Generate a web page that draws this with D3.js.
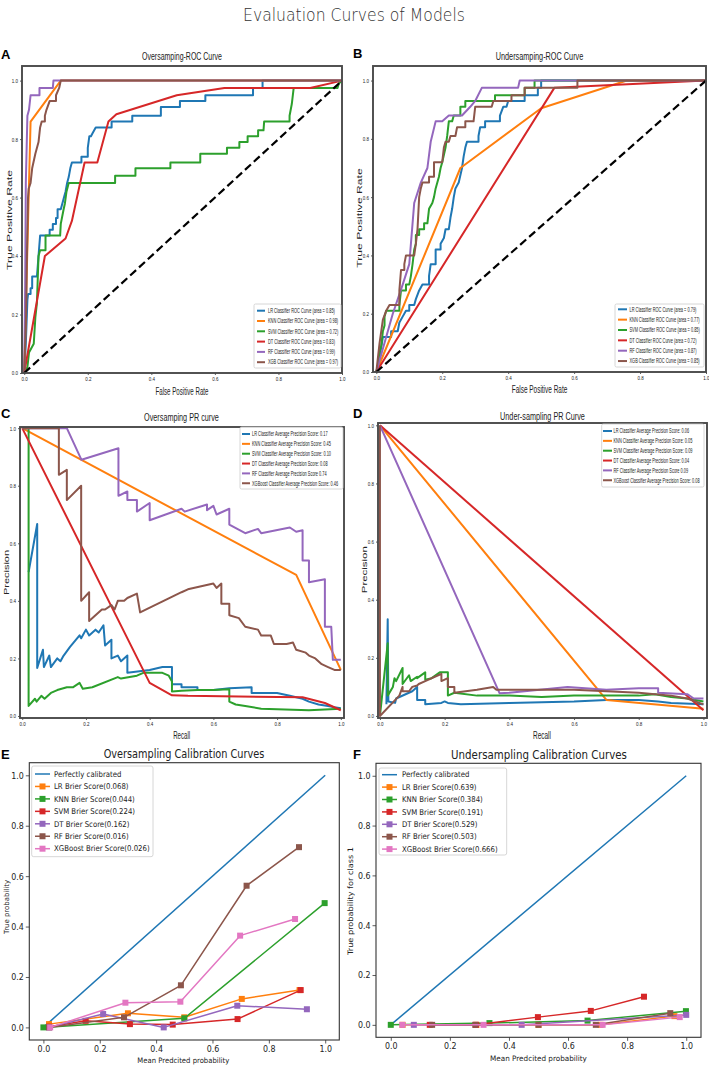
<!DOCTYPE html>
<html>
<head>
<meta charset="utf-8">
<script src="https://cdn.jsdelivr.net/npm/d3@7"></script>
<style>
body { margin: 0; background: #fff; }
</style>
</head>
<body>
<div id="chart"></div>
<script>
// ---------- data ----------
const ticks = [0, 0.2, 0.4, 0.6, 0.8, 1.0];

// A: oversampling ROC  [fpr, tpr]
const rocOverLR = [[0,0],[0.005,0.1],[0.01,0.25],[0.012,0.27],[0.02,0.27],[0.02,0.29],[0.025,0.29],[0.025,0.33],[0.04,0.33],[0.045,0.4],[0.05,0.47],[0.08,0.47],[0.08,0.49],[0.09,0.49],[0.09,0.51],[0.1,0.51],[0.1,0.53],[0.105,0.53],[0.105,0.56],[0.115,0.56],[0.12,0.58],[0.125,0.6],[0.13,0.62],[0.135,0.65],[0.14,0.67],[0.145,0.7],[0.15,0.72],[0.18,0.72],[0.18,0.74],[0.2,0.74],[0.2,0.77],[0.205,0.81],[0.21,0.81],[0.215,0.82],[0.225,0.84],[0.275,0.84],[0.275,0.86],[0.34,0.86],[0.34,0.88],[0.43,0.88],[0.43,0.91],[0.49,0.91],[0.49,0.93],[0.57,0.93],[0.57,0.95],[0.72,0.95],[0.72,0.975],[0.75,0.975],[0.75,1],[1,1]];
const rocOverKNN = [[0,0],[0.02,0.86],[0.115,1],[1,1]];
const rocOverSVM = [[0,0],[0.01,0.02],[0.015,0.07],[0.03,0.1],[0.035,0.19],[0.04,0.24],[0.045,0.4],[0.05,0.42],[0.067,0.42],[0.067,0.47],[0.113,0.47],[0.115,0.51],[0.124,0.56],[0.128,0.58],[0.133,0.62],[0.14,0.65],[0.286,0.65],[0.286,0.675],[0.35,0.675],[0.35,0.7],[0.46,0.7],[0.46,0.72],[0.554,0.72],[0.554,0.75],[0.638,0.75],[0.638,0.77],[0.677,0.77],[0.677,0.79],[0.703,0.79],[0.703,0.81],[0.736,0.81],[0.736,0.83],[0.753,0.83],[0.755,0.86],[0.835,0.86],[0.835,0.88],[0.842,0.92],[0.848,0.975],[0.986,0.975],[0.99,0.99],[1,1]];
const rocOverDT = [[0,0],[0.065,0.4],[0.13,0.46],[0.15,0.52],[0.19,0.72],[0.23,0.72],[0.265,0.86],[0.29,0.885],[0.48,0.95],[0.63,0.975],[0.9,0.975],[1,1]];
const rocOverRF = [[0,0],[0.003,0.3],[0.005,0.65],[0.01,0.88],[0.015,0.9],[0.02,0.95],[0.048,0.95],[0.048,0.975],[0.09,0.975],[0.092,1],[1,1]];
const rocOverXGB = [[0,0],[0.006,0.2],[0.008,0.37],[0.012,0.6],[0.014,0.63],[0.02,0.65],[0.025,0.7],[0.035,0.75],[0.045,0.79],[0.05,0.84],[0.055,0.86],[0.065,0.86],[0.065,0.88],[0.07,0.9],[0.08,0.93],[0.1,0.93],[0.1,0.95],[0.11,0.975],[0.115,1],[1,1]];
const rocOverLabels = ["LR Classifier ROC Curve (area = 0.85)", "KNN Classifier ROC Curve (area = 0.98)", "SVM Classifier ROC Curve (area = 0.72)", "DT Classifier ROC Curve (area = 0.83)", "RF Classifier ROC Curve (area = 0.99)", "XGB Classifier ROC Curve (area = 0.97)"];

// B: undersampling ROC
const rocUnderLR = [[0,0],[0.01,0.05],[0.02,0.12],[0.045,0.12],[0.045,0.14],[0.065,0.14],[0.07,0.17],[0.08,0.19],[0.09,0.21],[0.1,0.21],[0.1,0.23],[0.115,0.23],[0.12,0.25],[0.13,0.28],[0.14,0.3],[0.16,0.3],[0.16,0.33],[0.165,0.37],[0.18,0.37],[0.18,0.42],[0.195,0.42],[0.195,0.44],[0.205,0.46],[0.21,0.49],[0.22,0.49],[0.225,0.53],[0.23,0.56],[0.235,0.6],[0.24,0.63],[0.25,0.65],[0.26,0.7],[0.265,0.74],[0.27,0.77],[0.275,0.79],[0.31,0.79],[0.31,0.81],[0.315,0.84],[0.33,0.84],[0.33,0.86],[0.375,0.86],[0.375,0.88],[0.385,0.91],[0.395,0.91],[0.4,0.93],[0.45,0.93],[0.45,0.95],[0.49,0.95],[0.49,0.975],[0.5,0.975],[0.5,1],[1,1]];
const rocUnderKNN = [[0,0],[0.255,0.7],[0.5,0.905],[0.76,1],[1,1]];
const rocUnderSVM = [[0,0],[0.005,0.02],[0.01,0.07],[0.015,0.09],[0.02,0.14],[0.025,0.16],[0.025,0.19],[0.03,0.21],[0.07,0.21],[0.07,0.23],[0.075,0.28],[0.09,0.28],[0.09,0.3],[0.1,0.3],[0.105,0.33],[0.11,0.37],[0.115,0.42],[0.12,0.44],[0.12,0.47],[0.13,0.47],[0.13,0.49],[0.145,0.49],[0.145,0.51],[0.155,0.51],[0.16,0.56],[0.17,0.58],[0.175,0.6],[0.18,0.63],[0.19,0.67],[0.195,0.7],[0.2,0.72],[0.21,0.77],[0.215,0.81],[0.22,0.86],[0.23,0.86],[0.235,0.88],[0.255,0.88],[0.255,0.91],[0.27,0.91],[0.27,0.93],[0.36,0.93],[0.36,0.95],[0.45,0.95],[0.45,0.975],[0.48,0.975],[0.48,1],[1,1]];
const rocUnderDT = [[0,0],[0.54,0.975],[1,1]];
const rocUnderRF = [[0,0],[0.03,0.12],[0.05,0.2],[0.08,0.3],[0.1,0.37],[0.115,0.58],[0.135,0.65],[0.155,0.7],[0.165,0.79],[0.18,0.86],[0.2,0.86],[0.22,0.88],[0.26,0.88],[0.285,0.91],[0.3,0.93],[0.32,0.975],[0.43,0.975],[0.435,1],[1,1]];
const rocUnderXGB = [[0,0],[0.01,0.1],[0.02,0.18],[0.03,0.21],[0.04,0.23],[0.07,0.23],[0.07,0.28],[0.075,0.35],[0.085,0.35],[0.085,0.37],[0.09,0.4],[0.115,0.4],[0.12,0.44],[0.125,0.49],[0.13,0.6],[0.135,0.63],[0.14,0.65],[0.16,0.65],[0.16,0.67],[0.175,0.67],[0.175,0.72],[0.2,0.72],[0.205,0.77],[0.21,0.79],[0.22,0.79],[0.225,0.81],[0.24,0.81],[0.245,0.84],[0.27,0.84],[0.27,0.86],[0.295,0.86],[0.3,0.91],[0.35,0.91],[0.355,0.93],[0.41,0.93],[0.41,0.95],[0.45,0.95],[0.45,0.975],[0.61,0.975],[0.61,1],[1,1]];
const rocUnderLabels = ["LR Classifier ROC Curve (area = 0.79)", "KNN Classifier ROC Curve (area = 0.77)", "SVM Classifier ROC Curve (area = 0.85)", "DT Classifier ROC Curve (area = 0.72)", "RF Classifier ROC Curve (area = 0.87)", "XGB Classifier ROC Curve (area = 0.85)"];

// C: oversampling PR  [recall, precision]
const prOverLR = [[0.02,0.5],[0.047,0.667],[0.047,0.167],[0.065,0.23],[0.068,0.17],[0.085,0.21],[0.09,0.17],[0.11,0.2],[0.12,0.19],[0.13,0.21],[0.15,0.24],[0.18,0.28],[0.185,0.27],[0.2,0.3],[0.21,0.28],[0.23,0.3],[0.24,0.29],[0.255,0.315],[0.26,0.245],[0.28,0.265],[0.28,0.2],[0.3,0.21],[0.31,0.19],[0.33,0.21],[0.33,0.15],[0.4,0.16],[0.44,0.17],[0.47,0.17],[0.47,0.11],[0.5,0.11],[0.5,0.1],[0.55,0.1],[0.55,0.09],[0.6,0.09],[0.65,0.096],[0.72,0.1],[0.72,0.08],[0.8,0.08],[0.84,0.07],[0.88,0.06],[0.9,0.05],[0.93,0.04],[0.96,0.035],[0.98,0.03],[1,0.027]];
const prOverKNN = [[0,1],[0.86,0.49],[1,0.16]];
const prOverSVM = [[0,1],[0.02,1],[0.02,0.035],[0.04,0.06],[0.045,0.05],[0.06,0.07],[0.07,0.06],[0.09,0.08],[0.11,0.09],[0.14,0.1],[0.16,0.1],[0.18,0.115],[0.19,0.095],[0.22,0.1],[0.3,0.135],[0.31,0.13],[0.36,0.14],[0.38,0.15],[0.44,0.15],[0.46,0.14],[0.47,0.12],[0.47,0.085],[0.5,0.088],[0.55,0.09],[0.6,0.09],[0.65,0.093],[0.65,0.05],[0.67,0.04],[0.7,0.035],[0.75,0.025],[0.9,0.02],[1,0.025]];
const prOverDT = [[0,1],[0.4,0.115],[0.47,0.072],[0.52,0.07],[0.88,0.065],[0.95,0.045],[1,0.02]];
const prOverRF = [[0,1],[0.14,1],[0.186,0.89],[0.302,0.93],[0.302,0.765],[0.33,0.78],[0.33,0.75],[0.36,0.75],[0.36,0.71],[0.4,0.74],[0.4,0.68],[0.5,0.72],[0.51,0.71],[0.58,0.735],[0.58,0.715],[0.6,0.73],[0.61,0.7],[0.65,0.72],[0.65,0.665],[0.7,0.635],[0.74,0.65],[0.75,0.635],[0.84,0.655],[0.86,0.64],[0.88,0.645],[0.88,0.54],[0.9,0.54],[0.9,0.465],[0.95,0.475],[0.95,0.31],[0.97,0.31],[0.975,0.195],[1,0.195]];
const prOverXGB = [[0,1],[0.115,1],[0.115,0.838],[0.14,0.855],[0.14,0.75],[0.185,0.8],[0.185,0.4],[0.21,0.43],[0.21,0.33],[0.25,0.37],[0.26,0.37],[0.28,0.385],[0.29,0.37],[0.3,0.4],[0.32,0.4],[0.33,0.41],[0.36,0.425],[0.37,0.36],[0.5,0.43],[0.52,0.44],[0.6,0.46],[0.61,0.445],[0.625,0.46],[0.625,0.39],[0.65,0.39],[0.65,0.35],[0.68,0.34],[0.7,0.31],[0.74,0.3],[0.75,0.28],[0.78,0.28],[0.79,0.25],[0.83,0.25],[0.85,0.255],[0.86,0.23],[0.89,0.22],[0.9,0.21],[0.92,0.2],[0.94,0.18],[0.96,0.17],[0.98,0.16],[1,0.16]];
const prOverLabels = ["LR Classifier Average Precision Score: 0.17", "KNN Classifier Average Precision Score: 0.45", "SVM Classifier Average Precision Score: 0.10", "DT Classifier Average Precision Score: 0.08", "RF Classifier Average Precision Score 0.74", "XGBoost Classifier Average Precision Score: 0.46"];

// D: undersampling PR
const prUnderLR = [[0.02,0.04],[0.024,0.333],[0.026,0.05],[0.047,0.045],[0.05,0.06],[0.1,0.085],[0.115,0.1],[0.115,0.055],[0.14,0.055],[0.14,0.04],[0.19,0.045],[0.2,0.05],[0.21,0.045],[0.25,0.04],[0.4,0.045],[0.6,0.05],[0.7,0.055],[0.8,0.055],[0.86,0.05],[0.9,0.045],[1,0.04]];
const prUnderKNN = [[0,1],[0.7,0.055],[1,0.025]];
const prUnderSVM = [[0,0],[0.024,0.25],[0.024,0.07],[0.04,0.1],[0.045,0.13],[0.05,0.12],[0.07,0.165],[0.07,0.11],[0.09,0.14],[0.095,0.12],[0.115,0.135],[0.115,0.13],[0.14,0.15],[0.14,0.125],[0.16,0.13],[0.185,0.15],[0.21,0.15],[0.21,0.07],[0.23,0.08],[0.3,0.07],[0.4,0.07],[0.5,0.065],[0.6,0.07],[0.7,0.07],[0.8,0.07],[0.85,0.075],[0.9,0.065],[0.95,0.06],[1,0.05]];
const prUnderDT = [[0,1],[1,0.02]];
const prUnderRF = [[0,1],[0.37,0.078],[0.4,0.08],[0.58,0.1],[0.7,0.09],[0.8,0.095],[0.86,0.095],[0.86,0.08],[0.95,0.075],[0.97,0.06],[1,0.06]];
const prUnderXGB = [[0,1],[0,0],[0.06,0.07],[0.07,0.1],[0.07,0.085],[0.09,0.085],[0.1,0.1],[0.115,0.105],[0.12,0.11],[0.14,0.12],[0.18,0.14],[0.19,0.145],[0.19,0.12],[0.21,0.13],[0.21,0.1],[0.23,0.1],[0.23,0.08],[0.3,0.09],[0.35,0.1],[0.36,0.09],[0.4,0.09],[0.6,0.09],[0.7,0.085],[0.8,0.08],[0.9,0.07],[0.95,0.06],[1,0.04]];
const prUnderLabels = ["LR Classifier Average Precision Score: 0.06", "KNN Classifier Average Precision Score: 0.05", "SVM Classifier Average Precision Score: 0.09", "DT Classifier Average Precision Score: 0.04", "RF Classifier Average Precision Score 0.09", "XGBoost Classifier Average Precision Score: 0.08"];

// E: oversampling calibration  [mean predicted, true fraction]
const calPerfect = [[0,0],[1,1]];
const calOverLR = [[0.02,0.013],[0.3,0.056],[0.5,0.04],[0.704,0.113],[0.909,0.148]];
const calOverKNN = [[0,0],[0.5,0.036],[0.998,0.493]];
const calOverSVM = [[0.02,0.003],[0.15,0.026],[0.307,0.013],[0.459,0.011],[0.689,0.033],[0.913,0.148]];
const calOverDT = [[0.02,0],[0.212,0.053],[0.427,0],[0.688,0.086],[0.935,0.072]];
const calOverRF = [[0.02,0],[0.286,0.04],[0.488,0.167],[0.721,0.562],[0.907,0.715]];
const calOverXGB = [[0.024,0],[0.291,0.098],[0.486,0.102],[0.698,0.364],[0.893,0.43]];
const calOverLabels = ["LR Brier Score(0.068)", "KNN Brier Score(0.044)", "SVM Brier Score(0.224)", "DT Brier Score(0.162)", "RF Brier Score(0.016)", "XGBoost Brier Score(0.026)"];

// F: undersampling calibration
const calUnderLR = [[0.04,0],[0.29,0],[0.5,0],[0.71,0],[0.96,0.035]];
const calUnderKNN = [[0,0],[0.334,0.007],[0.666,0.017],[0.999,0.055]];
const calUnderSVM = [[0.132,0],[0.288,0],[0.498,0.031],[0.677,0.056],[0.857,0.113]];
const calUnderDT = [[0.078,0],[0.443,0],[1,0.04]];
const calUnderRF = [[0.14,0],[0.286,0],[0.5,0],[0.694,0],[0.946,0.047]];
const calUnderXGB = [[0.039,0],[0.314,0],[0.717,0],[0.978,0.031]];
const calUnderLabels = ["LR Brier Score(0.639)", "KNN Brier Score(0.384)", "SVM Brier Score(0.191)", "DT Brier Score(0.529)", "RF Brier Score(0.503)", "XGBoost Brier Score(0.666)"];

// ---------- drawing ----------
const c = {blue:'#1f77b4', orange:'#ff7f0e', green:'#2ca02c', red:'#d62728', purple:'#9467bd', brown:'#8c564b', pink:'#e377c2'};
const colorsTop = [c.blue, c.orange, c.green, c.red, c.purple, c.brown];
const colorsCal = [c.orange, c.green, c.red, c.purple, c.brown, c.pink];
const narrowFont = "'Liberation Sans', Arial, sans-serif";
const calFont = "'DejaVu Sans', sans-serif";

const svg = d3.select('#chart').append('svg')
    .attr('width', 709)
    .attr('height', 1067)
    .style('background', '#fff');

// the source panels were shrunk sideways, so text gets squeezed around its anchor
function squeeze(sel, k) {
    sel.each(function() {
        const t = d3.select(this);
        const x0 = +t.attr('x') || 0;
        t.attr('transform', `translate(${x0},0) scale(${k},1) translate(${-x0},0)`);
    });
}
function fitText(sel, w) {
    sel.each(function() {
        const w0 = this.getComputedTextLength();
        if (w0 > 0) squeeze(d3.select(this), w / w0);
    });
}

svg.append('text')
    .attr('x', 354).attr('y', 21)
    .attr('text-anchor', 'middle')
    .attr('font-family', calFont).attr('font-weight', 300)
    .attr('font-size', 18).attr('fill', '#333')
    .text('Evaluation Curves of Models')
    .call(fitText, 222);

function drawPanel(p) {
    const g = svg.append('g');
    const x = d3.scaleLinear().domain(p.xDom).range([p.left, p.right]);
    const y = d3.scaleLinear().domain(p.yDom).range([p.bottom, p.top]);
    const fmt = d3.format('.1f');

    const xAx = g.append('g').attr('transform', `translate(0,${p.bottom})`)
        .call(d3.axisBottom(x).tickValues(ticks).tickFormat(fmt).tickSize(p.tickLen).tickPadding(p.tickPad).tickSizeOuter(0));
    const yAx = g.append('g').attr('transform', `translate(${p.left},0)`)
        .call(d3.axisLeft(y).tickValues(ticks).tickFormat(fmt).tickSize(p.tickLen).tickPadding(p.tickPad).tickSizeOuter(0));
    [xAx, yAx].forEach(a => {
        a.select('.domain').remove();
        a.selectAll('line').attr('stroke', '#333').attr('stroke-width', 0.8);
        a.selectAll('text').attr('font-family', p.font).attr('font-size', p.tickFont).attr('fill', '#222')
            .call(squeeze, p.tickK);
    });

    const line = d3.line().x(d => x(d[0])).y(d => y(d[1]));

    if (p.perfect) {
        g.append('path').datum(p.perfect).attr('d', line)
            .attr('fill', 'none').attr('stroke', c.blue).attr('stroke-width', p.lw);
    }

    p.series.forEach((s, i) => {
        g.append('path').datum(s).attr('d', line)
            .attr('fill', 'none').attr('stroke', p.colors[i])
            .attr('stroke-width', p.lw).attr('stroke-linejoin', 'round');
        if (p.marker) {
            g.selectAll(null).data(s).enter().append('rect')
                .attr('x', d => x(d[0]) - p.marker / 2)
                .attr('y', d => y(d[1]) - p.marker / 2)
                .attr('width', p.marker).attr('height', p.marker)
                .attr('fill', p.colors[i]);
        }
    });

    if (p.diag) {
        g.append('path').datum([[0, 0], [1, 1]]).attr('d', line)
            .attr('fill', 'none').attr('stroke', '#000')
            .attr('stroke-width', 2.2).attr('stroke-dasharray', '8,4');
    }

    g.append('rect')
        .attr('x', p.left).attr('y', p.top)
        .attr('width', p.right - p.left).attr('height', p.bottom - p.top)
        .attr('fill', 'none').attr('stroke', p.frameColor).attr('stroke-width', p.frameW);

    // panel letter
    g.append('text').attr('x', p.letterX).attr('y', p.letterY)
        .attr('font-family', "'Liberation Sans', Arial, sans-serif").attr('font-weight', 'bold')
        .attr('font-size', 13).attr('fill', '#000').text(p.letter);

    // title and axis labels
    g.append('text').attr('x', p.title.x).attr('y', p.title.y)
        .attr('text-anchor', 'middle').attr('font-family', p.font)
        .attr('font-size', p.title.size).attr('fill', '#222')
        .text(p.title.text).call(fitText, p.title.w);
    g.append('text').attr('x', p.xLab.x).attr('y', p.xLab.y)
        .attr('text-anchor', 'middle').attr('font-family', p.font)
        .attr('font-size', p.xLab.size).attr('fill', '#222')
        .text(p.xLab.text).call(fitText, p.xLab.w);
    g.append('text')
        .attr('transform', `translate(${p.yLab.x},${p.yLab.y}) scale(${p.yLab.k},1) rotate(-90)`)
        .attr('text-anchor', 'middle').attr('font-family', p.yLab.font || p.font)
        .attr('font-size', p.yLab.size).attr('fill', '#222')
        .attr('textLength', p.yLab.w).attr('lengthAdjust', 'spacingAndGlyphs')
        .text(p.yLab.text);

    // legend
    const L = p.legend;
    const lg = g.append('g');
    lg.append('rect').attr('x', L.x0).attr('y', L.y0)
        .attr('width', L.x1 - L.x0).attr('height', L.y1 - L.y0)
        .attr('rx', L.rx).attr('fill', '#fff').attr('fill-opacity', 0.85)
        .attr('stroke', '#cccccc').attr('stroke-width', 0.8);
    L.items.forEach((e, i) => {
        const yy = L.row0 + i * L.step;
        lg.append('line').attr('x1', L.hx0).attr('x2', L.hx1).attr('y1', yy).attr('y2', yy)
            .attr('stroke', e.color).attr('stroke-width', p.lw);
        if (e.marker) {
            lg.append('rect').attr('x', (L.hx0 + L.hx1) / 2 - p.marker / 2).attr('y', yy - p.marker / 2)
                .attr('width', p.marker).attr('height', p.marker).attr('fill', e.color);
        }
        lg.append('text').attr('x', L.tx).attr('y', yy).attr('dy', '0.35em')
            .attr('font-family', p.font).attr('font-size', L.size).attr('fill', '#222')
            .text(e.label).call(squeeze, L.k);
    });
}

function topItems(labels) {
    return labels.map((t, i) => ({label: t, color: colorsTop[i]}));
}
function calItems(labels) {
    return [{label: 'Perfectly calibrated', color: c.blue}]
        .concat(labels.map((t, i) => ({label: t, color: colorsCal[i], marker: true})));
}

const topStyle = {font: narrowFont, tickFont: 6, tickK: 0.75, tickLen: 2, tickPad: 2, lw: 2, frameColor: '#4a4a4a', frameW: 1.9};
const calStyle = {font: calFont, tickFont: 9, tickK: 0.88, tickLen: 3.5, tickPad: 2, lw: 1.5, frameColor: '#333', frameW: 1.1, marker: 6};

drawPanel(Object.assign({}, topStyle, {
    letter: 'A', letterX: 1, letterY: 59,
    left: 22, right: 342, top: 66, bottom: 373, xDom: [-0.007, 1], yDom: [0, 1.05],
    series: [rocOverLR, rocOverKNN, rocOverSVM, rocOverDT, rocOverRF, rocOverXGB], colors: colorsTop, diag: true,
    title: {text: 'Oversamping-ROC Curve', x: 182, y: 60.5, size: 11, w: 80},
    xLab: {text: 'False Positive Rate', x: 182, y: 395, size: 10, w: 53},
    yLab: {text: 'True Positive Rate', x: 11.5, y: 220, size: 12, w: 100, k: 0.6},
    legend: {x0: 254, y0: 304, x1: 341, y1: 368, rx: 1.5, row0: 310.7, step: 10.3, hx0: 257, hx1: 265, tx: 268, size: 6.5, k: 0.6, items: topItems(rocOverLabels)}
}));

drawPanel(Object.assign({}, topStyle, {
    letter: 'B', letterX: 353, letterY: 58,
    left: 373, right: 706, top: 66, bottom: 372, xDom: [-0.01, 1], yDom: [0, 1.05],
    series: [rocUnderLR, rocUnderKNN, rocUnderSVM, rocUnderDT, rocUnderRF, rocUnderXGB], colors: colorsTop, diag: true,
    title: {text: 'Undersamping-ROC Curve', x: 539.5, y: 60.5, size: 11, w: 87.6},
    xLab: {text: 'False Positive Rate', x: 539.5, y: 393.5, size: 10, w: 55.6},
    yLab: {text: 'True Positive Rate', x: 362, y: 218, size: 12, w: 99.4, k: 0.6},
    legend: {x0: 615, y0: 304, x1: 704, y1: 367, rx: 1.5, row0: 309.3, step: 10.35, hx0: 618, hx1: 627, tx: 629.5, size: 6.5, k: 0.6, items: topItems(rocUnderLabels)}
}));

drawPanel(Object.assign({}, topStyle, {
    letter: 'C', letterX: 1, letterY: 418,
    left: 20, right: 344, top: 427, bottom: 718, xDom: [-0.007, 1.01], yDom: [-0.007, 1.004],
    series: [prOverLR, prOverKNN, prOverSVM, prOverDT, prOverRF, prOverXGB], colors: colorsTop,
    title: {text: 'Oversamping PR curve', x: 181.5, y: 421, size: 11, w: 75},
    xLab: {text: 'Recall', x: 181.7, y: 739, size: 10, w: 17},
    yLab: {text: 'Precision', x: 9, y: 572.5, size: 11.5, w: 45, k: 0.6},
    legend: {x0: 240, y0: 427, x1: 343, y1: 489, rx: 1.5, row0: 434, step: 9.85, hx0: 242, hx1: 250, tx: 252, size: 6.5, k: 0.6, items: topItems(prOverLabels)}
}));

drawPanel(Object.assign({}, topStyle, {
    letter: 'D', letterX: 353, letterY: 418,
    left: 378, right: 707, top: 423, bottom: 718, xDom: [-0.006, 1.011], yDom: [-0.007, 1.008],
    series: [prUnderLR, prUnderKNN, prUnderSVM, prUnderDT, prUnderRF, prUnderXGB], colors: colorsTop,
    title: {text: 'Under-sampling PR Curve', x: 542.5, y: 420, size: 11, w: 85},
    xLab: {text: 'Recall', x: 542, y: 739, size: 10, w: 18},
    yLab: {text: 'Precision', x: 366.5, y: 569.7, size: 11.5, w: 47, k: 0.6},
    legend: {x0: 601.7, y0: 424, x1: 704, y1: 487, rx: 1.5, row0: 431, step: 9.85, hx0: 603, hx1: 612, tx: 613.5, size: 6.5, k: 0.6, items: topItems(prUnderLabels)}
}));

drawPanel(Object.assign({}, calStyle, {
    letter: 'E', letterX: 1, letterY: 759,
    left: 29.3, right: 339.3, top: 762.7, bottom: 1040, xDom: [-0.05, 1.05], yDom: [-0.05, 1.05],
    perfect: calPerfect,
    series: [calOverLR, calOverKNN, calOverSVM, calOverDT, calOverRF, calOverXGB], colors: colorsCal,
    title: {text: 'Oversampling Calibration Curves', x: 184, y: 758.5, size: 12.5, w: 161},
    xLab: {text: 'Mean Predcited probability', x: 183.3, y: 1063, size: 7.5, w: 92},
    yLab: {text: 'True probability', x: 8.5, y: 907, size: 7, w: 54, k: 1},
    legend: {x0: 31.7, y0: 766, x1: 153, y1: 856.7, rx: 2, row0: 774, step: 12.45, hx0: 35, hx1: 50, tx: 54, size: 8, k: 0.87, items: calItems(calOverLabels)}
}));

drawPanel(Object.assign({}, calStyle, {
    letter: 'F', letterX: 353, letterY: 759,
    left: 376, right: 701, top: 763.3, bottom: 1037.3, xDom: [-0.05, 1.05], yDom: [-0.05, 1.05],
    perfect: calPerfect,
    series: [calUnderLR, calUnderKNN, calUnderSVM, calUnderDT, calUnderRF, calUnderXGB], colors: colorsCal,
    title: {text: 'Undersampling Calibration Curves', x: 539, y: 759, size: 12.5, w: 176},
    xLab: {text: 'Mean Predcited probability', x: 538.5, y: 1061, size: 7.5, w: 97},
    yLab: {text: 'True probability for class 1', x: 353, y: 901, size: 7.5, w: 108, k: 1},
    legend: {x0: 379, y0: 768, x1: 506.7, y1: 855, rx: 2, row0: 774.7, step: 12.4, hx0: 382, hx1: 397, tx: 402, size: 8, k: 0.87, items: calItems(calUnderLabels)}
}));
</script>
</body>
</html>
